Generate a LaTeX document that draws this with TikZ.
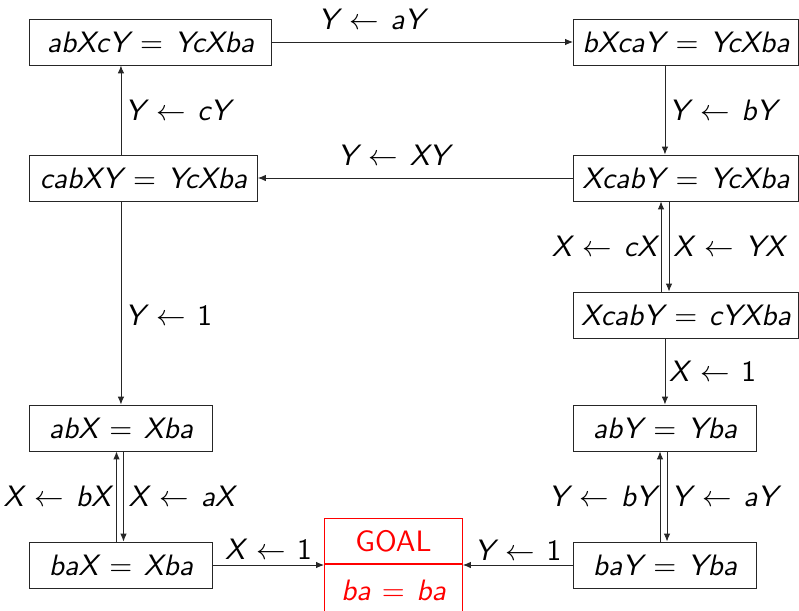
\documentclass[tikz,border=0pt]{standalone}
\usepackage{fontspec}
\usetikzlibrary{arrows.meta}
\newcommand\sv[1]{\textsf{\itshape #1}}
\newcommand\eqn[2]{$\thickmuskip=7mu\sv{#1}=\sv{#2}$}
\newcommand\asg[2]{$\thickmuskip=7mu\sv{#1}\leftarrow\sv{#2}$}
\begin{document}
\begin{tikzpicture}[x=0.339pt,y=-0.339pt,
  every node/.style={font=\fontsize{10}{12}\selectfont},
  box/.style={draw=black!85, line width=0.3pt, anchor=west, minimum height=46*0.339pt, inner sep=0pt},
  arr/.style={draw=black!85, -{Latex[length=2.7pt,width=2.2pt]}, line width=0.3pt},
  hlab/.style={anchor=base, inner sep=0pt},
  rlab/.style={anchor=west, inner sep=1.3pt},
  llab/.style={anchor=east, inner sep=1.3pt},
  goalbox/.style={draw=red, line width=0.3pt, text=red, anchor=north west, minimum width=138*0.339pt, inner sep=0pt}]
\useasboundingbox (0,0) rectangle (799,610);
% nodes
\node[box, minimum width=242*0.339pt] (n1) at (29,42) {\eqn{abXcY}{YcXba}};
\node[box, minimum width=225*0.339pt] (n2) at (573,42) {\eqn{bXcaY}{YcXba}};
\node[box, minimum width=228*0.339pt] (n3) at (29,178) {\eqn{cabXY}{YcXba}};
\node[box, minimum width=225*0.339pt] (n4) at (573,178) {\eqn{XcabY}{YcXba}};
\node[box, minimum width=225*0.339pt] (n5) at (573,315) {\eqn{XcabY}{cYXba}};
\node[box, minimum width=183*0.339pt] (n6) at (573,428) {\eqn{abY}{Yba}};
\node[box, minimum width=183*0.339pt] (n7) at (573,565) {\eqn{baY}{Yba}};
\node[box, minimum width=183*0.339pt] (n8) at (29,428) {\eqn{abX}{Xba}};
\node[box, minimum width=183*0.339pt] (n9) at (29,565) {\eqn{baX}{Xba}};
\node[goalbox, minimum height=46*0.339pt] (g) at (324,518) {\textsf{GOAL}};
\node[goalbox, minimum height=52*0.339pt] (gb) at (324,564) {\eqn{ba}{ba}};
\draw[red, line width=0.7pt] (gb.north west) -- (gb.north east);
% helper x positions
\coordinate (rU) at (661,0);
\coordinate (rD) at (669,0);
\coordinate (sU) at (660,0);
\coordinate (sD) at (667,0);
\coordinate (lU) at (116.5,0);
\coordinate (lD) at (123.5,0);
% edges
\draw[arr] (n1) -- (n2) node[hlab, pos=0.33, yshift=4.4pt] {\asg{Y}{aY}};
\draw[arr] (n2.south -| n6.north) -- (n4.north -| n6.north) node[rlab, midway] {\asg{Y}{bY}};
\draw[arr] (n4) -- (n3) node[hlab, pos=0.57, yshift=4.1pt] {\asg{Y}{XY}};
\draw[arr] (n3.north -| n8.north) -- (n1.south -| n8.north) node[rlab, midway] {\asg{Y}{cY}};
\draw[arr] (n3.south -| n8.north) -- (n8.north) node[rlab, pos=0.56] {\asg{Y}{\upshape 1}};
\draw[arr] (n5.north -| rU) -- (n4.south -| rU) node[llab, midway] {\asg{X}{cX}};
\draw[arr] (n4.south -| rD) -- (n5.north -| rD) node[rlab, midway] {\asg{X}{YX}};
\draw[arr] (n5.south -| n6.north) -- (n6.north) node[rlab, midway] {\asg{X}{\upshape 1}};
\draw[arr] (n7.north -| sU) -- (n6.south -| sU) node[llab, midway] {\asg{Y}{bY}};
\draw[arr] (n6.south -| sD) -- (n7.north -| sD) node[rlab, midway] {\asg{Y}{aY}};
\draw[arr] (n9.north -| lU) -- (n8.south -| lU) node[llab, midway, inner sep=1.8pt] {\asg{X}{bX}};
\draw[arr] (n8.south -| lD) -- (n9.north -| lD) node[rlab, midway, inner sep=1.6pt] {\asg{X}{aX}};
\draw[arr] (n9.east) -- (n9.east -| gb.west) node[hlab, midway, yshift=1.7pt] {\asg{X}{\upshape 1}};
\draw[arr] (n7.west) -- (n7.west -| gb.east) node[hlab, midway, yshift=1.4pt] {\asg{Y}{\upshape 1}};
\end{tikzpicture}
\end{document}
